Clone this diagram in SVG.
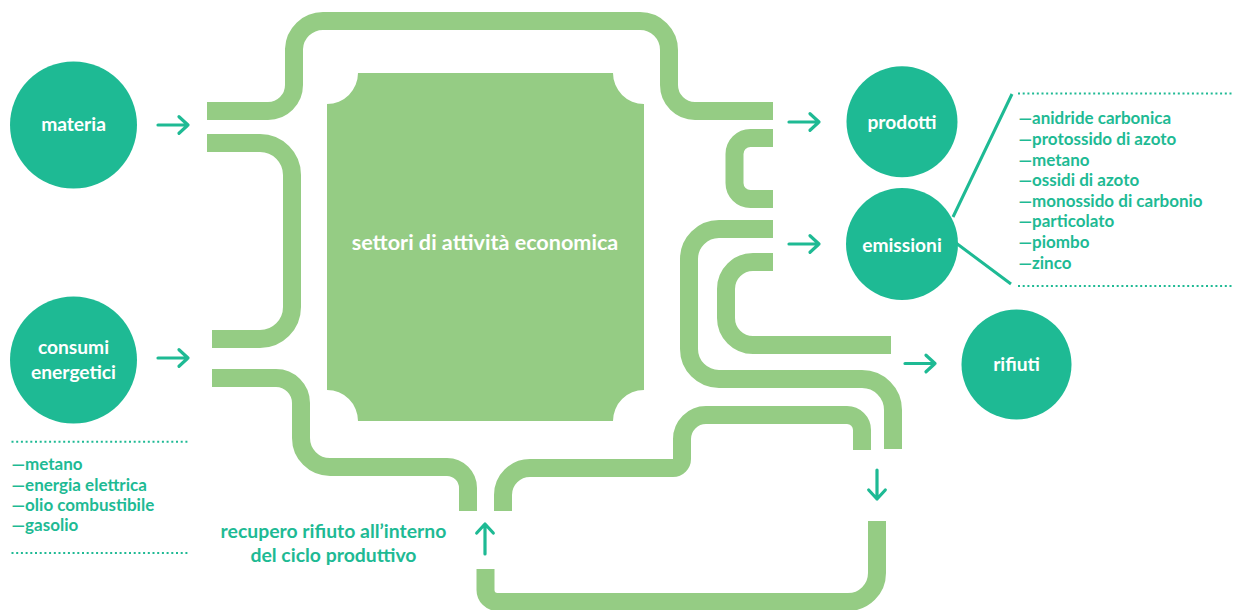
<svg xmlns="http://www.w3.org/2000/svg" width="1234" height="610" viewBox="0 0 1234 610">
<style>
.pipe{fill:none;stroke:#95CC84;stroke-width:18;stroke-linecap:butt}
.arr{fill:none;stroke:#1EBA94;stroke-width:3.2;stroke-linecap:round;stroke-linejoin:round}
.circ{fill:#1EBA94}
.lbl{font-family:Lato,"Open Sans",sans-serif;font-weight:700;fill:#fff;font-size:19.2px;text-anchor:middle}
.lst{font-family:Lato,"Open Sans",sans-serif;font-weight:700;fill:#1EBA94;font-size:17px}
.cap{font-family:Lato,"Open Sans",sans-serif;font-weight:700;fill:#1EBA94;font-size:19.4px;text-anchor:middle}
.dot{fill:none;stroke:#1EBA94;stroke-width:2;stroke-dasharray:2 2.7}
.ln{fill:none;stroke:#1EBA94;stroke-width:3}
</style>
<rect width="1234" height="610" fill="#fff"/>
<g id="connectors">
<path class="pipe" d="M207,111 H268 A26,26 0 0 0 294,85 V49 A29,29 0 0 1 323,21 H640 A29,29 0 0 1 669,50 V85 A26,26 0 0 0 695,111 H773"/>
<path class="pipe" d="M207,143 H260 A32,32 0 0 1 292,175 V307 A32,32 0 0 1 260,339 H212"/>
<path class="pipe" d="M212,378 H276 A25,25 0 0 1 301,403 V438 A29,29 0 0 0 330,467 H447 A21,21 0 0 1 468,488 V511"/>
<path class="pipe" d="M503,511 V495 A27,27 0 0 1 530,468 H673 A9,9 0 0 0 682,459 V439 A24,24 0 0 1 706,415 H847 A15,15 0 0 1 862,430 V450"/>
<path class="pipe" d="M773,138 H750.5 A16,16 0 0 0 734.5,154 V183 A16,16 0 0 0 750.5,199 H773"/>
<path class="pipe" d="M773,229 H719 A30,30 0 0 0 689,259 V349 A30,30 0 0 0 719,379 H862 A31,31 0 0 1 893,410 V449"/>
<path class="pipe" d="M773,262 H753 A27,27 0 0 0 726,289 V318 A27,27 0 0 0 753,345 H891"/>
<path class="pipe" d="M485.5,569 V590 A12,12 0 0 0 497.5,602 H848 A29,29 0 0 0 877,573 V521"/>
<path class="arr" d="M158,125 H188 M179,116.7 L188,125 L179,133.3"/>
<path class="arr" d="M158,358 H188 M179,349.7 L188,358 L179,366.3"/>
<path class="arr" d="M789,122 H819 M810,113.7 L819,122 L810,130.3"/>
<path class="arr" d="M789,244 H819 M810,235.7 L819,244 L810,252.3"/>
<path class="arr" d="M905,363.5 H935 M926,355.2 L935,363.5 L926,371.8"/>
<path class="arr" d="M877,470 V499 M868.7,490 L877,499 L885.3,490"/>
<path class="arr" d="M485,554 V524 M476.7,533 L485,524 L493.3,533"/>
</g>
<g id="settori">
<path fill="#95CC84" d="M358,73 H613 A31,31 0 0 0 644,104 V390 A31,31 0 0 0 613,421 H358 A31,31 0 0 0 327,390 V104 A31,31 0 0 0 358,73 Z"/>
<text class="lbl" x="485" y="249.5" style="font-size:21.6px">settori di attività economica</text>
</g>
<g id="materia">
<circle class="circ" cx="73.5" cy="125" r="63.5"/>
<text class="lbl" x="73.5" y="131">materia</text>
</g>
<g id="consumi">
<circle class="circ" cx="73.5" cy="360" r="63.5"/>
<text class="lbl" x="73.5" y="354">consumi</text>
<text class="lbl" x="73.5" y="378.5">energetici</text>
</g>
<g id="prodotti">
<circle class="circ" cx="902" cy="121.7" r="55.5"/>
<text class="lbl" x="902" y="128.5">prodotti</text>
</g>
<g id="emissioni">
<circle class="circ" cx="902" cy="244" r="56"/>
<text class="lbl" x="902" y="251.5">emissioni</text>
</g>
<g id="rifiuti">
<circle class="circ" cx="1016.5" cy="364.5" r="55"/>
<text class="lbl" x="1016.5" y="371">rifiuti</text>
</g>
<g id="emissioni-list">
<path class="ln" d="M953,217 L1012,94 M956,243 L1011,284"/>
<path class="dot" d="M1018,93.5 H1234 M1018,286 H1234"/>
<text class="lst" x="1018.5" y="124.3">—anidride carbonica</text>
<text class="lst" x="1018.5" y="145">—protossido di azoto</text>
<text class="lst" x="1018.5" y="165.5">—metano</text>
<text class="lst" x="1018.5" y="186">—ossidi di azoto</text>
<text class="lst" x="1018.5" y="206.7">—monossido di carbonio</text>
<text class="lst" x="1018.5" y="227.3">—particolato</text>
<text class="lst" x="1018.5" y="248">—piombo</text>
<text class="lst" x="1018.5" y="268.5">—zinco</text>
</g>
<g id="consumi-list">
<path class="dot" d="M11.5,441.7 H189 M11.5,553 H189"/>
<text class="lst" x="11.5" y="470">—metano</text>
<text class="lst" x="11.5" y="490.7">—energia elettrica</text>
<text class="lst" x="11.5" y="510.7">—olio combustibile</text>
<text class="lst" x="11.5" y="531">—gasolio</text>
</g>
<g id="recupero">
<text class="cap" x="333.5" y="537.7">recupero rifiuto all’interno</text>
<text class="cap" x="333.5" y="561.7">del ciclo produttivo</text>
</g>
</svg>
